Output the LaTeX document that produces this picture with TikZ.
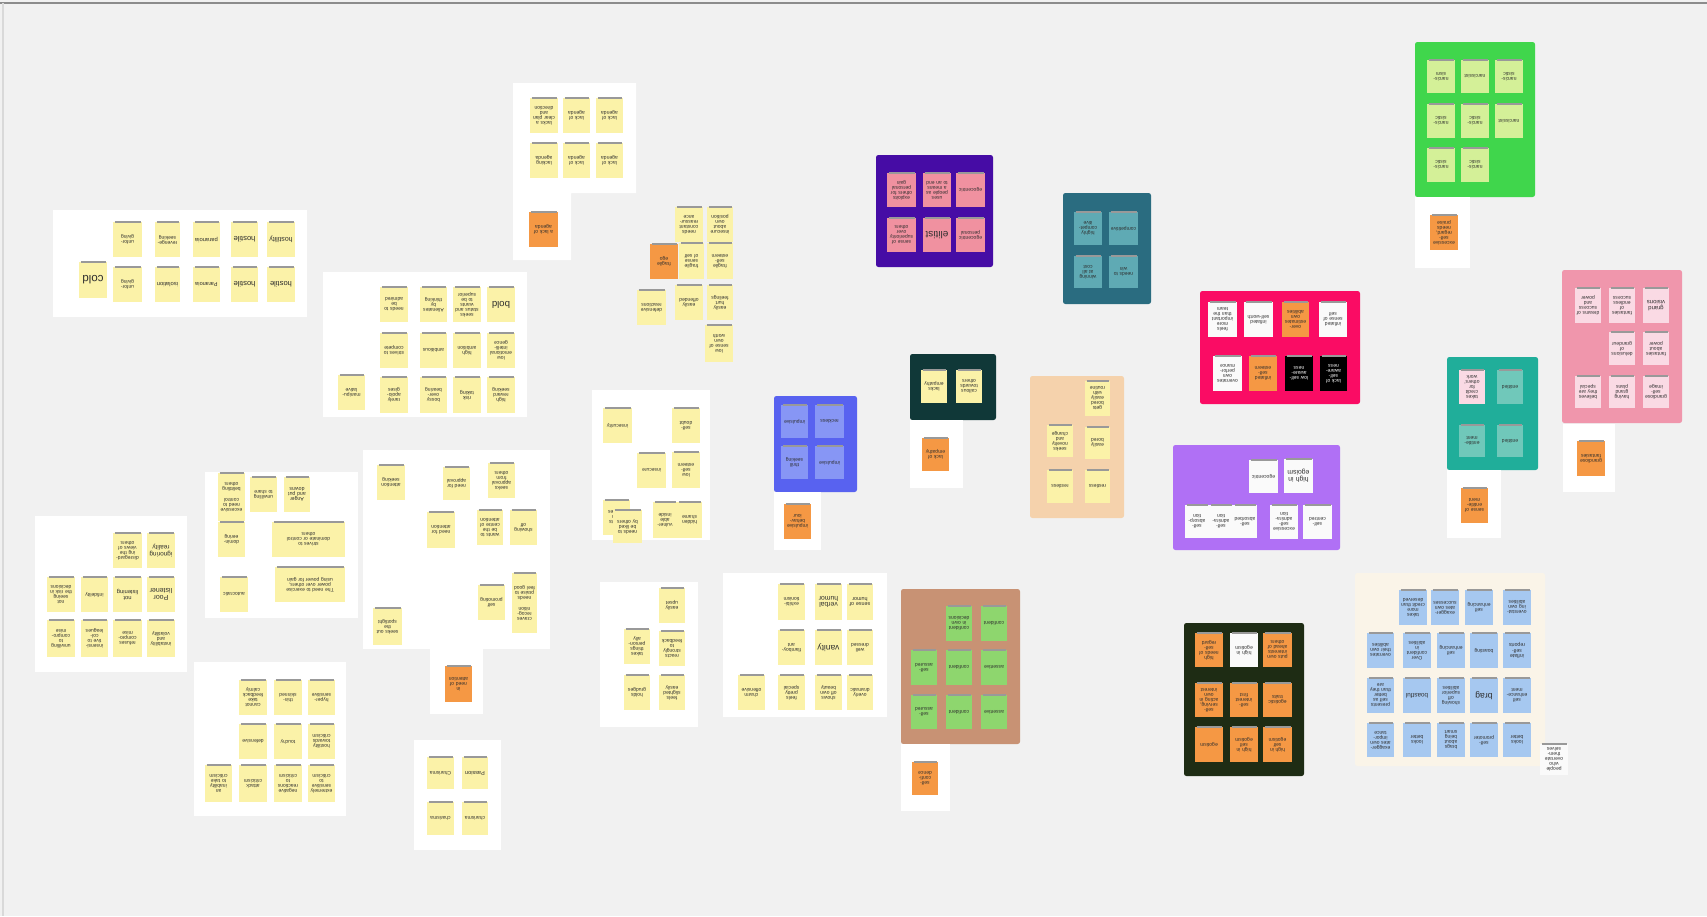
\documentclass[tikz,border=0pt]{standalone}
\usepackage{fontspec}
\setmainfont{Liberation Sans}
% canvas and note colours
\definecolor{canvas}{RGB}{241,241,241}
\definecolor{ny}{RGB}{251,242,168}
\definecolor{no}{RGB}{245,152,68}
\definecolor{nw}{RGB}{250,250,250}
\definecolor{bIndigo}{RGB}{70,12,165}
\definecolor{nPink}{RGB}{240,145,160}
\definecolor{bTeal}{RGB}{42,108,128}
\definecolor{nTeal}{RGB}{95,170,180}
\definecolor{bBlue}{RGB}{88,98,240}
\definecolor{nBlue}{RGB}{135,150,245}
\definecolor{bDeep}{RGB}{16,56,56}
\definecolor{bPeach}{RGB}{245,210,172}
\definecolor{bMagenta}{RGB}{250,12,100}
\definecolor{bLilac}{RGB}{176,112,245}
\definecolor{bGreen}{RGB}{64,214,76}
\definecolor{nLime}{RGB}{212,240,152}
\definecolor{bRose}{RGB}{240,150,172}
\definecolor{nRose}{RGB}{250,218,228}
\definecolor{bJade}{RGB}{32,174,154}
\definecolor{nJade}{RGB}{112,200,186}
\definecolor{bTan}{RGB}{200,146,116}
\definecolor{nGreen}{RGB}{142,214,110}
\definecolor{bOlive}{RGB}{30,44,20}
\definecolor{bCream}{RGB}{250,244,232}
\definecolor{nSky}{RGB}{166,200,240}
\tikzset{
  board/.style={rounded corners=1.2pt},
  notetop/.style={draw=black!40,line width=0.9pt},
  notetext/.style={rotate=180,align=center,inner sep=0pt,text=black!82}
}
% \pnote[font size]{x1}{y1}{x2}{y2}{fill}{text}: a sticky note, text turned upside down
\newcommand\pnote[7][2.5]{%
  \fill[#6] (#2,#3) rectangle (#4,#5);
  \draw[notetop] ({#2+1.5},#3) -- ({#4-1.5},#3);
  \pgfmathsetmacro\pnw{(#4-#2)*0.5-1}%
  \node[notetext,text width=\pnw pt,font=\fontsize{#1}{#1}\selectfont] at ({(#2+#4)/2},{(#3+#5)/2}) {#7};
}
\begin{document}
\begin{tikzpicture}[x=0.5pt,y=-0.5pt]
\useasboundingbox (0,0) rectangle (1707,916);
\fill[canvas] (0,0) rectangle (1707,916);
\draw[black!45,line width=0.6pt] (0,3) -- (1707,3);
\draw[black!15,line width=0.6pt] (3,3) -- (3,916);

% ---------- cold / hostile cluster ----------
\fill[white] (53,210) rectangle (307,317);
\pnote{113}{222}{142}{257}{ny}{unfor-\\giving}
\pnote{155}{222}{180}{257}{ny}{revenge-\\seeking}
\pnote[2.9]{193}{222}{220}{257}{ny}{paranoia}
\pnote[3.8]{231}{222}{258}{257}{ny}{hostile}
\pnote[3.5]{267}{222}{295}{257}{ny}{hostility}
\pnote[5.8]{79}{262}{107}{298}{ny}{cold}
\pnote{113}{267}{142}{302}{ny}{unfor-\\giving}
\pnote[2.9]{155}{267}{180}{302}{ny}{isolation}
\pnote[2.8]{193}{267}{220}{302}{ny}{Paranoia}
\pnote[3.8]{231}{267}{258}{302}{ny}{hostile}
\pnote[3.8]{267}{267}{295}{302}{ny}{hostile}

% ---------- bold / ambition cluster ----------
\fill[white] (323,272) rectangle (527,417);
\pnote{380}{287}{408}{322}{ny}{needs to\\be\\admired}
\pnote{420}{287}{447}{322}{ny}{Alienates\\by\\thinking}
\pnote{453}{287}{481}{322}{ny}{seeks\\status and\\wants to be\\superior}
\pnote[4.8]{487}{287}{515}{322}{ny}{bold}
\pnote{380}{333}{408}{368}{ny}{strives to\\compete}
\pnote{420}{333}{447}{368}{ny}{ambitious}
\pnote{453}{333}{481}{368}{ny}{high\\ambition}
\pnote{487}{333}{515}{368}{ny}{low\\emotional\\intelli-\\gence}
\pnote{380}{377}{408}{413}{ny}{rarely\\apolo-\\gises}
\pnote{420}{377}{447}{413}{ny}{bossy\\over-\\bearing}
\pnote[2.6]{453}{377}{481}{413}{ny}{risk\\taking}
\pnote{487}{377}{515}{413}{ny}{high\\reward\\seeking}
\pnote{338}{375}{365}{410}{ny}{manipu-\\lative}

% ---------- agenda cluster ----------
\fill[white] (513,83) -- (636,83) -- (636,193) -- (571,193) -- (571,260) -- (513,260) -- cycle;
\pnote{530}{98}{558}{133}{ny}{lacks a\\clear plan\\and\\direction}
\pnote{563}{98}{590}{133}{ny}{lack of\\agenda}
\pnote{596}{98}{623}{133}{ny}{lack of\\agenda}
\pnote{530}{143}{558}{178}{ny}{lacking\\agenda}
\pnote{563}{143}{590}{178}{ny}{lack of\\agenda}
\pnote{596}{143}{623}{178}{ny}{lack of\\agenda}
\pnote{529}{212}{558}{247}{no}{a lack of\\agenda}

% ---------- loose notes: fragile self ----------
\pnote{675}{207}{703}{242}{ny}{needs\\constant\\reassur-\\ance}
\pnote{707}{207}{733}{242}{ny}{insecure\\about\\own\\position}
\pnote{650}{244}{678}{279}{no}{fragile\\ego}
\pnote{679}{243}{704}{279}{ny}{fragile\\sense\\of self}
\pnote{707}{243}{733}{279}{ny}{fragile\\self-\\esteem}
\pnote{637}{290}{666}{325}{ny}{defensive\\reactions}
\pnote{675}{285}{703}{320}{ny}{easily\\offended}
\pnote{707}{285}{733}{320}{ny}{easily\\hurt\\feelings}
\pnote{705}{325}{733}{362}{ny}{low\\sense of\\own\\worth}

% ---------- self-esteem cluster ----------
\fill[white] (592,390) rectangle (710,540);
\pnote{603}{408}{632}{443}{ny}{insecurity}
\pnote{672}{408}{700}{443}{ny}{self-\\doubt}
\pnote{637}{453}{666}{488}{ny}{insecure}
\pnote{672}{452}{700}{488}{ny}{low\\self-\\esteem}
\pnote{603}{500}{630}{535}{ny}{doubts\\own\\abilities}
\pnote{613}{510}{642}{543}{ny}{needs to\\be liked\\by others}
\pnote{653}{502}{677}{538}{ny}{vulner-\\able\\inside}
\pnote{677}{502}{702}{538}{ny}{hidden\\shame}

% ---------- sensitivity cluster ----------
\fill[white] (600,582) rectangle (698,727);
\pnote{659}{588}{685}{623}{ny}{easily\\upset}
\pnote{624}{629}{650}{664}{ny}{takes\\things\\person-\\ally}
\pnote{659}{631}{685}{666}{ny}{reacts\\strongly\\to\\feedback}
\pnote{624}{675}{650}{710}{ny}{holds\\grudges}
\pnote{659}{675}{685}{710}{ny}{feels\\slighted\\easily}

% ---------- humour / vanity cluster ----------
\fill[white] (723,573) rectangle (887,717);
\pnote{778}{584}{805}{620}{ny}{exhibi-\\tionism}
\pnote[3.4]{815}{584}{842}{620}{ny}{verbal\\humor}
\pnote[2.7]{847}{584}{873}{620}{ny}{sense of\\humor}
\pnote{778}{630}{805}{665}{ny}{flamboy-\\ant}
\pnote[4.2]{815}{630}{842}{665}{ny}{vanity}
\pnote{847}{630}{873}{665}{ny}{well\\dressed}
\pnote{738}{675}{765}{710}{ny}{charm\\offensive}
\pnote{778}{675}{805}{710}{ny}{feels\\pretty\\special}
\pnote{815}{675}{842}{710}{ny}{shows\\off own\\beauty}
\pnote{847}{675}{873}{710}{ny}{overly\\dramatic}

% ---------- listening cluster ----------
\fill[white] (35,516) rectangle (187,672);
\pnote{113}{533}{142}{568}{ny}{disregard-\\ing the\\views of\\others}
\pnote[3.2]{147}{533}{175}{568}{ny}{ignoring\\reality}
\pnote{47}{577}{75}{612}{ny}{not\\seeing\\the risk in\\decisions}
\pnote{81}{577}{108}{612}{ny}{infidelity}
\pnote[2.9]{113}{577}{142}{612}{ny}{not\\listening}
\pnote[3.5]{147}{577}{175}{612}{ny}{Poor\\listener}
\pnote{47}{620}{75}{657}{ny}{unwilling\\to\\compro-\\mise}
\pnote{81}{620}{108}{657}{ny}{insensi-\\tive to\\col-\\leagues}
\pnote{113}{620}{142}{657}{ny}{refuses\\compro-\\mise}
\pnote{147}{620}{175}{657}{ny}{instability\\and\\volatility}

% ---------- power cluster ----------
\fill[white] (205,472) rectangle (358,618);
\pnote{218}{473}{245}{521}{ny}{excessive\\need to\\control\\[3pt]belittling\\others}
\pnote{218}{522}{245}{557}{ny}{domin-\\eering}
\pnote{250}{477}{277}{512}{ny}{unwilling\\to share}
\pnote[2.6]{284}{477}{310}{512}{ny}{Anger\\and put\\downs}
\pnote{272}{522}{345}{557}{ny}{strives to\\dominate or control\\others}
\pnote{275}{567}{345}{602}{ny}{The need to exercise\\power over others,\\using power for gain}
\pnote{220}{577}{248}{612}{ny}{autocratic}

% ---------- criticism cluster ----------
\fill[white] (194,662) rectangle (346,816);
\pnote{239}{680}{267}{715}{ny}{cannot\\take\\feedback\\calmly}
\pnote{274}{680}{302}{715}{ny}{thin-\\skinned}
\pnote{308}{680}{335}{715}{ny}{hyper-\\sensitive}
\pnote{239}{724}{267}{759}{ny}{defensive}
\pnote{274}{724}{302}{759}{ny}{touchy}
\pnote{308}{724}{335}{759}{ny}{hostility\\towards\\criticism}
\pnote{205}{765}{232}{802}{ny}{an\\inability\\to take\\criticism}
\pnote{239}{765}{267}{802}{ny}{attack\\criticism}
\pnote{274}{765}{302}{802}{ny}{negative\\reactions\\to\\criticism}
\pnote{308}{765}{335}{802}{ny}{extremely\\sensitive\\to\\criticism}

% ---------- charisma cluster ----------
\fill[white] (414,740) rectangle (501,850);
\pnote{427}{757}{454}{789}{ny}{Charisma}
\pnote[2.8]{462}{757}{488}{789}{ny}{Passion}
\pnote{427}{802}{454}{835}{ny}{charisma}
\pnote{462}{802}{488}{835}{ny}{charisma}

% ---------- attention cluster ----------
\fill[white] (363,450) rectangle (550,649);
\pnote{377}{465}{405}{500}{ny}{attention\\seeking}
\pnote{443}{467}{470}{500}{ny}{need for\\approval}
\pnote{488}{463}{515}{498}{ny}{seeks\\approval\\from\\others}
\pnote{427}{512}{455}{548}{ny}{need for\\attention}
\pnote{477}{510}{503}{545}{ny}{wants to\\be the\\centre of\\attention}
\pnote{510}{510}{537}{545}{ny}{showing\\off}
\pnote{478}{585}{505}{620}{ny}{self\\promoting}
\pnote{512}{573}{537}{633}{ny}{craves\\recog-\\nition\\[3pt]needs\\praise to\\feel good}
\pnote{373}{608}{402}{645}{ny}{seeks out\\the\\spotlight}
\fill[white] (430,649) rectangle (483,714);
\pnote{445}{666}{472}{702}{no}{in\\need of\\attention}

% ---------- blue board ----------
\fill[bBlue,board] (774,396) rectangle (857,492);
\pnote{781}{405}{808}{438}{nBlue}{impulsive}
\pnote{815}{405}{844}{438}{nBlue}{reckless}
\pnote{781}{446}{808}{479}{nBlue}{thrill\\seeking}
\pnote{815}{446}{844}{479}{nBlue}{impulsive}
\fill[white] (774,492) rectangle (821,550);
\pnote{784}{504}{811}{539}{no}{impulsive\\behav-\\iour}

% ---------- indigo board ----------
\fill[bIndigo,board] (876,155) rectangle (993,267);
\pnote{887}{173}{916}{207}{nPink}{exploits\\others for\\personal\\gain}
\pnote{923}{173}{951}{207}{nPink}{uses\\people as\\a means\\to an end}
\pnote{956}{173}{985}{207}{nPink}{egocentric}
\pnote{887}{218}{916}{252}{nPink}{sense of\\superiority\\over\\others}
\pnote[5]{923}{218}{951}{252}{nPink}{elitist}
\pnote{956}{218}{985}{252}{nPink}{egocentric\\personal}

% ---------- teal board ----------
\fill[bTeal,board] (1063,193) rectangle (1151,304);
\pnote{1074}{212}{1102}{245}{nTeal}{highly\\compet-\\itive}
\pnote{1109}{212}{1138}{245}{nTeal}{competitive}
\pnote{1074}{256}{1102}{288}{nTeal}{winning\\at all\\cost}
\pnote{1109}{256}{1138}{288}{nTeal}{needs to\\win}

% ---------- dark board ----------
\fill[bDeep,board] (910,354) rectangle (996,420);
\pnote{921}{370}{947}{403}{ny}{lacks\\empathy}
\pnote{956}{370}{982}{403}{ny}{callous\\towards\\others}
\fill[white] (910,420) rectangle (963,488);
\pnote{922}{438}{949}{471}{no}{lack of\\empathy}

% ---------- peach board ----------
\fill[bPeach,board] (1030,376) rectangle (1124,518);
\pnote{1085}{381}{1110}{416}{ny}{gets\\bored\\easily\\with\\routine}
\pnote{1047}{425}{1073}{457}{ny}{seeks\\novelty\\and\\change}
\pnote{1085}{427}{1110}{459}{ny}{easily\\bored}
\pnote{1047}{470}{1073}{503}{ny}{restless}
\pnote{1085}{470}{1110}{503}{ny}{restless}

% ---------- magenta board ----------
\fill[bMagenta,board] (1200,291) rectangle (1360,404);
\pnote{1208}{302}{1237}{337}{nw}{feels\\more\\important\\than the\\team}
\pnote{1244}{302}{1273}{337}{nw}{inflated\\self-worth}
\pnote{1282}{302}{1309}{337}{no}{over-\\estimates\\own\\abilities}
\pnote{1319}{302}{1347}{337}{nw}{inflated\\sense of\\self}
\pnote{1213}{356}{1242}{391}{nw}{overrates\\own\\perfor-\\mance}
\pnote{1249}{356}{1277}{391}{no}{inflated\\self-\\esteem}
\pnote{1285}{356}{1313}{391}{black}{\color{white}low self-\\aware-\\ness}
\pnote{1320}{356}{1347}{391}{black}{\color{white}lack of\\self-\\aware-\\ness}

% ---------- lilac board ----------
\fill[bLilac,board] (1173,445) rectangle (1340,550);
\pnote{1249}{460}{1278}{493}{nw}{egocentric}
\pnote[3.4]{1284}{459}{1313}{493}{nw}{high in\\egoism}
\pnote{1185}{505}{1209}{538}{nw}{self-\\absorp-\\tion}
\pnote{1209}{505}{1233}{538}{nw}{self-\\admira-\\tion}
\pnote{1233}{505}{1257}{538}{nw}{self-\\absorbed}
\pnote{1270}{505}{1298}{539}{nw}{excessive\\self-\\admira-\\tion}
\pnote{1303}{505}{1332}{539}{nw}{self-\\centred}

% ---------- green board ----------
\fill[bGreen,board] (1415,42) rectangle (1535,197);
\pnote{1427}{60}{1455}{93}{nLime}{narcis-\\sism}
\pnote{1461}{60}{1489}{93}{nLime}{narcissist}
\pnote{1495}{60}{1523}{93}{nLime}{narcis-\\sistic}
\pnote{1427}{104}{1455}{138}{nLime}{narcis-\\sistic}
\pnote{1461}{104}{1489}{138}{nLime}{narcis-\\sistic}
\pnote{1495}{104}{1523}{138}{nLime}{narcissist}
\pnote{1427}{148}{1455}{182}{nLime}{narcis-\\sistic}
\pnote{1461}{148}{1489}{182}{nLime}{narcis-\\sistic}
\fill[white] (1415,197) rectangle (1470,268);
\pnote{1430}{215}{1458}{250}{no}{excessive\\self-\\regard,\\needs\\praise}

% ---------- rose board ----------
\fill[bRose,board] (1562,270) rectangle (1682,423);
\pnote{1575}{288}{1601}{323}{nRose}{dreams of\\success\\and\\power}
\pnote{1609}{288}{1635}{323}{nRose}{fantasies\\of\\endless\\success}
\pnote[3]{1643}{288}{1669}{323}{nRose}{grand\\visions}
\pnote{1609}{332}{1635}{365}{nRose}{delusions\\of\\grandeur}
\pnote{1643}{332}{1669}{365}{nRose}{fantasies\\about\\power}
\pnote{1575}{376}{1601}{408}{nRose}{believes\\they are\\special}
\pnote{1609}{376}{1635}{408}{nRose}{having\\grand\\plans}
\pnote{1643}{376}{1669}{408}{nRose}{grandiose\\self-\\image}
\fill[white] (1563,424) rectangle (1615,492);
\pnote{1577}{441}{1605}{476}{no}{grandiose\\fantasies}

% ---------- jade board ----------
\fill[bJade,board] (1447,357) rectangle (1538,470);
\pnote{1459}{370}{1485}{404}{nRose}{takes\\credit\\for\\others'\\work}
\pnote{1497}{370}{1523}{404}{nJade}{entitled}
\pnote{1459}{425}{1485}{457}{nJade}{entitle-\\ment}
\pnote{1497}{425}{1523}{457}{nJade}{entitled}
\fill[white] (1447,470) rectangle (1501,538);
\pnote{1461}{488}{1488}{523}{no}{sense of\\entitle-\\ment}

% ---------- tan board ----------
\fill[bTan,board] (901,589) rectangle (1020,744);
\pnote{946}{606}{972}{641}{nGreen}{confident\\in own\\decisions}
\pnote{981}{606}{1007}{641}{nGreen}{confident}
\pnote{911}{650}{937}{685}{nGreen}{self-\\assured}
\pnote{946}{650}{972}{685}{nGreen}{confident}
\pnote{981}{650}{1007}{685}{nGreen}{assertive}
\pnote{911}{695}{937}{729}{nGreen}{self-\\assured}
\pnote{946}{695}{972}{729}{nGreen}{confident}
\pnote{981}{695}{1007}{729}{nGreen}{assertive}
\fill[white] (901,744) rectangle (950,811);
\pnote{912}{762}{938}{795}{no}{self-\\confi-\\dence}

% ---------- olive board ----------
\fill[bOlive,board] (1184,623) rectangle (1304,776);
\pnote{1195}{633}{1223}{667}{no}{high\\needs of\\self-\\regard}
\pnote{1230}{633}{1258}{667}{nw}{high in\\egotism}
\pnote{1263}{633}{1292}{667}{no}{puts own\\interests\\ahead of\\others}
\pnote{1195}{683}{1223}{717}{no}{self-\\serving,\\acting in\\own\\interest}
\pnote{1230}{683}{1258}{717}{no}{self-\\interest\\first}
\pnote{1263}{683}{1292}{717}{no}{egotistic\\traits}
\pnote{1195}{727}{1223}{762}{no}{egotism}
\pnote{1230}{727}{1258}{762}{no}{high in\\self\\egotism}
\pnote{1263}{727}{1292}{762}{no}{high in\\self\\egotism}

% ---------- cream board ----------
\fill[bCream,board] (1355,573) rectangle (1545,766);
\pnote{1399}{590}{1427}{625}{nSky}{takes\\more\\credit than\\deserved}
\pnote{1431}{590}{1459}{625}{nSky}{exagger-\\ates own\\successes}
\pnote{1465}{590}{1493}{625}{nSky}{self\\enhancing}
\pnote{1503}{590}{1531}{625}{nSky}{overstat-\\ing own\\abilities}
\pnote{1367}{633}{1394}{668}{nSky}{overrates\\their own\\abilities}
\pnote{1403}{633}{1431}{668}{nSky}{Over\\confident\\in\\abilities}
\pnote{1437}{633}{1465}{668}{nSky}{self\\enhancing}
\pnote{1470}{633}{1498}{668}{nSky}{boasting}
\pnote[2.6]{1503}{633}{1531}{668}{nSky}{inflate\\self-\\reports}
\pnote{1367}{678}{1394}{713}{nSky}{presents\\self as\\better\\than they\\are}
\pnote[3.2]{1403}{678}{1431}{713}{nSky}{boastful}
\pnote{1437}{678}{1465}{713}{nSky}{showing\\off\\superior\\abilities}
\pnote[4.3]{1470}{678}{1498}{713}{nSky}{brag}
\pnote{1503}{678}{1531}{713}{nSky}{self\\enhance-\\ment}
\pnote{1367}{723}{1394}{757}{nSky}{exagger-\\ates own\\impor-\\tance}
\pnote{1403}{723}{1431}{757}{nSky}{looks\\better}
\pnote{1437}{723}{1465}{757}{nSky}{brags\\about\\being\\smart}
\pnote{1470}{723}{1498}{757}{nSky}{self-\\promoter}
\pnote{1503}{723}{1531}{757}{nSky}{looks\\better}
\pnote{1540}{744}{1568}{775}{nw}{people\\who\\overrate\\them-\\selves}
\end{tikzpicture}
\end{document}
